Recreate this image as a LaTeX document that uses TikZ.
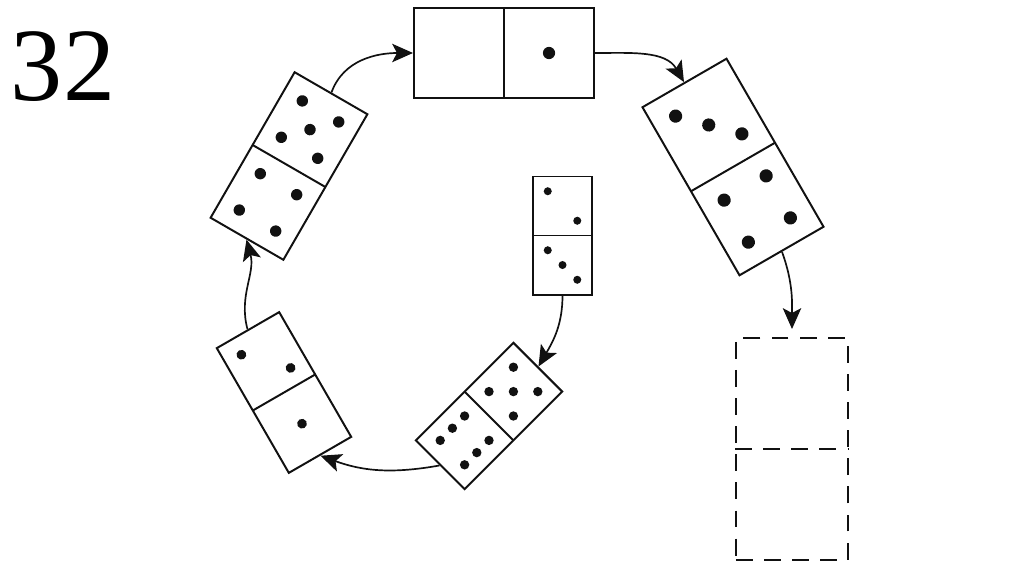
\documentclass[tikz,border=0pt]{standalone}
\usepackage{fontspec}
\setmainfont{Liberation Serif}
\usepackage{tikz}
\usetikzlibrary{positioning, arrows.meta, calc}
\definecolor{tileblack}{HTML}{111111}

% domino: name, centre, angle, side, dots (in units of the side)
\newcommand{\domino}[5]{%
  \begin{scope}[shift={#2}, rotate=#3, x=#4, y=#4]
    \node[tilebox, minimum width=#4, minimum height=2*#4] (#1) at (0,0) {};
    \draw[tileline] (-0.5,0) -- (0.5,0);
    \foreach \p in {#5}
      \fill[tileblack] \p circle[radius=0.068];
  \end{scope}}

\begin{document}
\begin{tikzpicture}[
  x=0.025cm, y=0.025cm,
  tilebox/.style={draw=tileblack, line width=1.4pt, transform shape, inner sep=0pt},
  tileline/.style={draw=tileblack, line width=1.4pt},
  emptybox/.style={draw=tileblack, line width=1.4pt, dash pattern=on 12pt off 8pt,
    minimum width=2.8cm, minimum height=5.55cm, inner sep=0pt},
  arrow/.style={-{Stealth[length=5.2mm, width=4.6mm, inset=1.2mm]}, line width=1.2pt, color=tileblack},
]
\useasboundingbox (0,0) rectangle (1024,574);

\node[font=\rmfamily\fontsize{74}{74}\selectfont] (num) at (63,507) {32};

\domino{top}{(504,521)}{-90}{2.25cm}{(0,0.5)}
\domino{tr}{(733,407)}{30}{2.425cm}{(-0.25,0.75),(0,0.5),(0.25,0.25),
  (-0.25,-0.25),(0.25,-0.25),(-0.25,-0.75),(0.25,-0.75)}
\domino{tl}{(289,408)}{-30}{2.1cm}{(-0.25,0.75),(0.25,0.75),(0,0.5),(-0.25,0.25),
  (0.25,0.25),(-0.25,-0.25),(0.25,-0.25),(-0.25,-0.75),(0.25,-0.75)}
\domino{mid}{(562.5,338.5)}{0}{1.475cm}{(-0.25,0.75),(0.25,0.25),
  (-0.25,-0.25),(0,-0.5),(0.25,-0.75)}
\domino{br}{(489,158)}{-45}{1.725cm}{(-0.25,0.75),(0.25,0.75),(0,0.5),(-0.25,0.25),
  (0.25,0.25),(-0.25,-0.25),(-0.25,-0.5),(-0.25,-0.75),(0.25,-0.25),(0.25,-0.5),(0.25,-0.75)}
\domino{bl}{(284,181.5)}{30}{1.8cm}{(-0.25,0.75),(0.25,0.25),(0,-0.5)}

% the missing tile
\node[emptybox] (empty) at (792,125) {};
\draw[tileline, dash pattern=on 12pt off 8pt] (empty.west) -- (empty.east);

\draw[arrow] (mid.south) to[out=-90, in=60] (br.north);
\draw[arrow] (br.south) to[out=190, in=-20] (bl.south);
\draw[arrow] (bl.north) to[out=105, in=-75] (tl.south);
\draw[arrow] (tl.north) to[out=70, in=180] (top.south);
\draw[arrow] (top.north) to[out=0, in=120] (tr.north);
\draw[arrow, shorten >=0.2cm] (tr.south) to[out=-70, in=90] (empty.north);
\end{tikzpicture}
\end{document}
